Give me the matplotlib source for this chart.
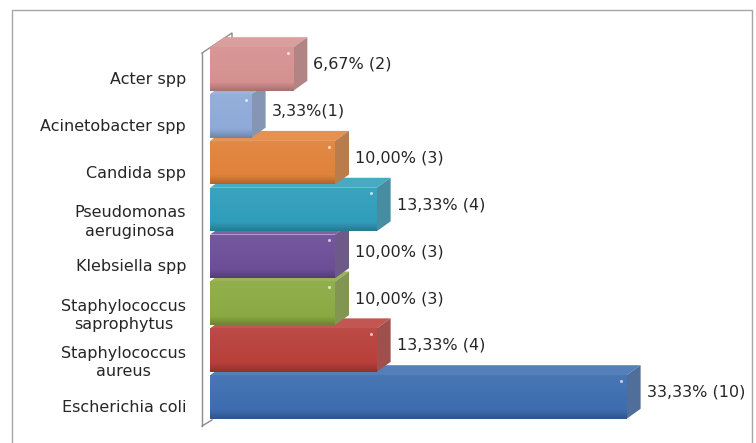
import matplotlib
matplotlib.use('Agg')
import matplotlib.pyplot as plt
from matplotlib.patches import Polygon, Rectangle
import matplotlib.colors as mcolors
import numpy as np

categories = ['Escherichia coli', 'Staphylococcus\naureus', 'Staphylococcus\nsaprophytus',
              'Klebsiella spp', 'Pseudomonas\naeruginosa', 'Candida spp',
              'Acinetobacter spp', 'Acter spp']
percent = [33.33, 13.33, 10.00, 10.00, 13.33, 10.00, 3.33, 6.67]
counts = [10, 4, 3, 3, 4, 3, 1, 2]
value_labels = ['33,33% (10)', '13,33% (4)', '10,00% (3)', '10,00% (3)',
                '13,33% (4)', '10,00% (3)', '3,33%(1)', '6,67% (2)']
colors = ['#3D6DB0', '#B83F3A', '#8BAA42', '#6C4E97', '#2F9DBB', '#E0823A', '#8EAAD8', '#D59190']

plt.rcParams['font.family'] = ['DejaVu Sans']
FS = 11.5
TXT = '#262626'

W, H = 756, 443
fig = plt.figure(figsize=(W / 100, H / 100), dpi=100)
L, R, T, B = 202, 752, 30, 432
ax = fig.add_axes([L / W, 1 - B / H, (R - L) / W, (B - T) / H])
ax.set_facecolor('none')
px_x = 12.5
px_y = 46.86
x0pix = 210
y0pix = 397
ax.set_xlim(-(x0pix - L) / px_x, (R - x0pix) / px_x)
ax.set_ylim(-(B - y0pix) / px_y, (y0pix - T) / px_y)

h = 0.93
dx = 14 / px_x
dy = 10 / px_y


def mix(c, other, t):
    a = np.array(mcolors.to_rgb(c))
    b = np.array(mcolors.to_rgb(other))
    return tuple(a * (1 - t) + b * t)


ypos = np.arange(len(categories))
for i, (v, c) in enumerate(zip(percent, colors)):
    z = 3 + i * 0.1
    yb, yt = i - h / 2, i + h / 2
    top = Polygon([(0, yt), (v, yt), (v + dx, yt + dy), (dx, yt + dy)],
                  closed=True, facecolor=mix(c, 'white', 0.12), edgecolor='none', zorder=z)
    side = Polygon([(v, yb), (v + dx, yb + dy), (v + dx, yt + dy), (v, yt)],
                   closed=True, facecolor=mix(c, '#707070', 0.35), edgecolor='none', zorder=z)
    ax.add_patch(top)
    ax.add_patch(side)
    bars = ax.barh(i, v, height=h, left=0, color=c, edgecolor='none', zorder=z + 0.01)
    # soft vertical shading on the front face
    grad = np.linspace(0, 1, 64)[:, None]
    c_top = np.array(mix(c, 'white', 0.06))
    c_mid = np.array(mcolors.to_rgb(c))
    c_bot = np.array(mix(c, 'black', 0.22))
    rgb = np.where(grad < 0.8, c_top + (c_mid - c_top) * (grad / 0.8),
                   c_mid + (c_bot - c_mid) * ((grad - 0.8) / 0.2))
    img = ax.imshow(rgb[:, None, :].repeat(2, axis=1), extent=(0, v, yb, yt),
                    origin='upper', aspect='auto', zorder=z + 0.02, interpolation='bilinear')
    img.set_clip_path(bars.patches[0])
    # small highlight near the right end
    ax.plot([v - 0.45], [yt - 0.12], 'o', ms=2.2, color=mix(c, 'white', 0.7),
            mec='none', zorder=z + 0.03)
    ax.text(v + dx + 6 / px_x, i + 0.1, value_labels[i], fontsize=FS, color=TXT,
            va='center', ha='left', zorder=10)

ax.set_xlim(-(x0pix - L) / px_x, (R - x0pix) / px_x)
ax.set_ylim(-(B - y0pix) / px_y, (y0pix - T) / px_y)
ax.set_yticks(ypos - 0.19)
ax.set_yticklabels(categories, fontsize=FS, color=TXT)
for lbl in ax.get_yticklabels():
    lbl.set_multialignment('center')
    lbl.set_linespacing(1.3)
ax.tick_params(axis='y', length=0, pad=11.5)
ax.set_xticks([])
for s in ax.spines.values():
    s.set_visible(False)

# wall edges
xw = -(x0pix - 202) / px_x
wall_col = '#8c8c8c'
ax.plot([xw, xw], [-(426 - y0pix) / px_y, (y0pix - 53) / px_y], color=wall_col, lw=1,
        clip_on=False, zorder=2)
ax.plot([xw, (232 - x0pix) / px_x, (232 - x0pix) / px_x],
        [(y0pix - 53) / px_y, (y0pix - 33) / px_y, (y0pix - 45) / px_y],
        color=wall_col, lw=1, clip_on=False, zorder=2)
ax.plot([xw, (212 - x0pix) / px_x], [-(426 - y0pix) / px_y, -(420 - y0pix) / px_y],
        color=wall_col, lw=1, clip_on=False, zorder=2)

# outer frame
fig.add_artist(Rectangle((12 / W, -0.1), (752 - 12) / W, (1 - 10 / H) + 0.1,
                         transform=fig.transFigure, fill=False, edgecolor='#a6a6a6', lw=1))

fig.savefig('out.png', dpi=100)
